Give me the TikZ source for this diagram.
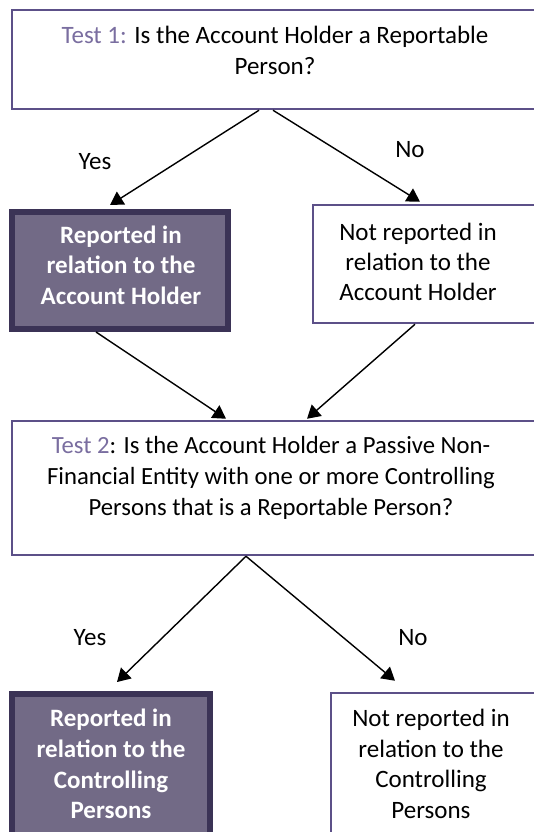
\documentclass[tikz,border=0pt]{standalone}
\usepackage{fontspec}
\setmainfont{Carlito}
\usetikzlibrary{arrows.meta,calc}
\definecolor{lightbd}{HTML}{5C5088}
\definecolor{darkbd}{HTML}{3B3356}
\definecolor{darkfill}{HTML}{726A86}
\definecolor{testc}{HTML}{7A6EA0}
\begin{document}
\begin{tikzpicture}[x=1pt,y=-1pt,
  lbox/.style={draw=lightbd,line width=2.5pt,rectangle,inner sep=0pt,fill=white},
  dbox/.style={draw=darkbd,line width=6pt,rectangle,inner sep=0pt,fill=darkfill},
  txt/.style={align=center,inner sep=0pt,font=\fontsize{25}{31}\selectfont},
  wtxt/.style={txt,text=white,font=\fontsize{25}{30.5}\selectfont\bfseries},
  arr/.style={draw=black,line width=1.4pt,-{Triangle[length=13pt,width=15pt]}}]
\clip (0,0) rectangle (534,832);
\fill[white] (0,0) rectangle (534,832);
% boxes
\node[lbox,minimum width=528pt,minimum height=99pt] (t1) at (276,59.5) {};
\node[dbox,minimum width=216pt,minimum height=117pt] (r1) at (120,270.5) {};
\node[lbox,minimum width=227pt,minimum height=118pt] (n1) at (426.5,264) {};
\node[lbox,minimum width=528pt,minimum height=134pt] (t2) at (276,488) {};
\node[dbox,minimum width=198pt,minimum height=160pt] (r2) at (111,774) {};
\node[lbox,minimum width=209pt,minimum height=160pt] (n2) at (435.5,773) {};
% texts
\node[txt] (t1t) at (275,50.5) {{\color{testc}Test 1:} Is the Account Holder a Reportable\\Person?};
\node[wtxt] (r1t) at (121,265) {Reported in\\relation to the\\Account Holder};
\node[txt,font=\fontsize{25}{30}\selectfont] (n1t) at (418,262) {Not reported in\\relation to the\\Account Holder};
\node[txt,font=\fontsize{24.7}{31}\selectfont] (t2t) at (271,478) {{\color{testc}Test 2}: Is the Account Holder a Passive Non-\\Financial Entity with one or more Controlling\\Persons that is a Reportable Person?};
\node[wtxt,font=\fontsize{25}{30.7}\selectfont\bfseries] (r2t) at (111,764) {Reported in\\relation to the\\Controlling\\Persons};
\node[txt,font=\fontsize{25}{30.7}\selectfont] (n2t) at (431,764) {Not reported in\\relation to the\\Controlling\\Persons};
% labels
\node[txt] (y1) at (95,162) {Yes};
\node[txt] (no1) at (410,150) {No};
\node[txt] (y2) at (90,638) {Yes};
\node[txt] (no2) at (413,638) {No};
% arrows
\draw[arr] ($(t1.south)+(-17,0)$) -- ($(r1.north)+(-10,-4)$);
\draw[arr] ($(t1.south)+(-3,0)$) -- ($(n1.north)+(-6.5,-2)$);
\draw[arr] ($(r1.south)+(-24,0)$) -- ($(t2.north)+(-50,-1)$);
\draw[arr] ($(n1.south)+(-11.5,0)$) -- ($(t2.north)+(31,-1)$);
\draw[arr] ($(t2.south)+(-30,0)$) -- ($(r2.north)+(6,-9)$);
\draw[arr] ($(t2.south)+(-30,0)$) -- ($(n2.north)+(-40.5,-11)$);
\end{tikzpicture}
\end{document}
